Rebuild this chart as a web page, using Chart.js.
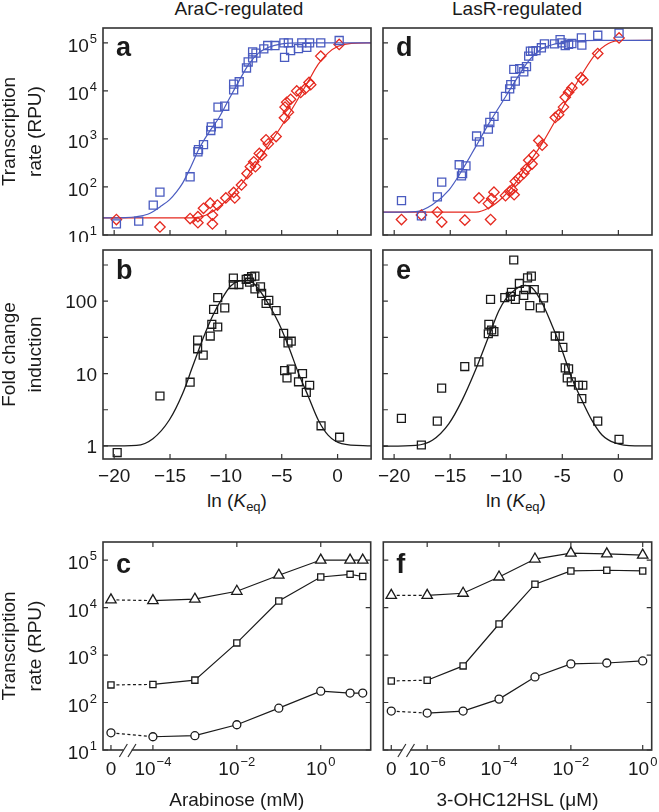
<!DOCTYPE html>
<html>
<head>
<meta charset="utf-8">
<script src="https://cdn.jsdelivr.net/npm/chart.js@4.4.1/dist/chart.umd.min.js"></script>
<style>
  body { margin: 0; background: #fff; width: 659px; height: 812px; position: relative; overflow: hidden;
         font-family: "Liberation Sans", Arial, sans-serif; color: #1a1a1a; }
  .box { position: absolute; }
  .lbl { position: absolute; font-size: 19px; line-height: 22px; text-align: center; white-space: nowrap; }
  .lbl sub { font-size: 13px; vertical-align: -4px; line-height: 0; }
</style>
</head>
<body>
<div class="lbl" style="left:89px;top:-2px;width:300px">AraC-regulated</div>
<div class="lbl" style="left:367px;top:-2px;width:300px">LasR-regulated</div>
<div class="lbl" style="left:87px;top:490px;width:300px">ln (<i>K</i><sub>eq</sub>)</div>
<div class="lbl" style="left:366px;top:490px;width:300px">ln (<i>K</i><sub>eq</sub>)</div>

<script>
// ---------- data ----------
// a: AraC, transcription rate vs ln(Keq)
const aBlueX = [-19.8,-17.8,-16.5,-15.9,-13.2,-12.5,-12.45,-12.0,-11.35,-11.3,-10.7,-10.7,-10.1,-9.3,-9.3,-8.8,-8.15,-8.0,-7.6,-7.6,-7.3,-6.6,-6.25,-5.6,-4.8,-4.74,-4.4,-4.2,-3.5,-3.2,-2.75,-2.5,-1.5,0.15];
const aBlueY = [17,19.5,42,78,163,540,600,760,1500,1780,2100,4600,4800,10500,13800,15500,30000,40000,49000,65000,61000,75000,88000,88000,100000,50000,100000,69000,76000,100000,81000,100000,100000,112000];
const aRedX = [-19.8,-15.9,-13.2,-12.5,-12.5,-12.0,-11.4,-11.2,-11.2,-10.75,-10.0,-9.3,-9.2,-8.6,-8.1,-7.8,-7.5,-7.35,-7.0,-6.8,-6.4,-6.2,-5.5,-4.75,-4.7,-4.55,-4.4,-4.2,-3.65,-3.3,-2.9,-2.55,-2.4,-1.5,0.15];
const aRedY = [21,14.7,22,24,18,36,46,26,17,42,59,77,59,110,190,265,335,265,500,460,960,790,1120,2750,4600,5800,3600,6700,10000,9300,11000,15000,13500,53000,93000];
const aBlueFitX = [-21,-19,-18,-17,-16.5,-15.8,-15.05,-14.4,-13.87,-13.13,-12.39,-11.5,-10.6,-9.72,-8.83,-7.94,-7.05,-6.16,-4.98,-3.2,3];
const aBlueFitY = [22.7,23,24,27,31,40,54,80,120,265,630,1390,2800,6700,16000,36000,62000,81000,95000,100000,100000];
const aRedFitX = [-21,-13.57,-12.09,-10.9,-9.72,-8.53,-7.35,-6.16,-4.98,-3.79,-2.61,-1.72,-0.83,0.06,1.24,3];
const aRedFitY = [22.7,22.7,24.5,34,59,120,290,740,1900,5400,16000,36000,62000,85000,98000,100000];

// d: LasR, transcription rate vs ln(Keq)
const dBlueX = [-19.35,-17.57,-16.15,-15.76,-14.2,-14.0,-13.9,-13.6,-12.65,-12.4,-11.6,-11.47,-11.1,-10.07,-9.7,-9.6,-9.2,-9.33,-8.8,-8.44,-8.2,-8.0,-7.85,-7.64,-7.35,-6.87,-6.6,-5.7,-5.2,-5.04,-4.74,-4.44,-4.15,-3.3,-3.26,-1.84,0.06];
const dBlueY = [52,25,62,126,290,170,190,275,1150,870,1600,2200,2950,7700,11000,13500,16000,28000,29000,25000,32000,53000,67000,67000,69000,79000,95000,95000,117000,100000,88000,93000,97000,127000,90000,144000,160000];
const dRedX = [-19.35,-17.57,-16.15,-15.76,-13.7,-12.44,-11.6,-11.4,-11.3,-11.1,-10.07,-9.7,-9.48,-9.3,-9.2,-8.9,-8.44,-8.24,-8.0,-7.7,-7.55,-7.1,-6.8,-5.63,-5.33,-4.9,-4.74,-4.44,-4.15,-3.35,-3.17,-1.84,0.06];
const dRedY = [21,26,30,18.6,20.4,59,45,21,57,78,66,81,88,69,130,152,192,233,360,300,460,930,740,2800,3200,4600,7400,9400,11500,19000,17000,60000,127000];
const dBlueFitX = [-21,-18.07,-16.6,-15.1,-13.93,-12.74,-11.56,-10.37,-9.19,-8.0,-6.81,-5.63,-4.15,-1.78,3];
const dBlueFitY = [29.8,30.7,42.6,87,226,683,2080,5800,16200,42000,76000,95000,108000,113000,113000];
const dRedFitX = [-21,-12.74,-11.56,-10.37,-9.19,-8.0,-6.81,-5.63,-4.44,-3.26,-2.07,-0.89,0.3,3];
const dRedFitY = [29.8,30,36.5,59,120,310,800,2400,7400,22000,57000,97000,112000,113000];

// b, e: fold change induction vs ln(Keq)
const bX = [-19.73,-15.9,-13.2,-12.53,-12.53,-12.03,-11.4,-11.26,-10.73,-11.1,-10.73,-10.1,-9.33,-9.33,-8.83,-8.18,-8.0,-7.88,-7.7,-7.4,-7.4,-6.9,-6.8,-6.4,-6.16,-5.5,-4.83,-4.44,-4.15,-4.74,-4.53,-4.15,-3.5,-3.14,-2.8,-2.5,-1.48,0.18];
const bY = [0.81,4.9,7.6,29,22,18,33,48,44,77,112,81,209,170,170,200,206,183,218,222,148,158,128,93,103,74,36,26.5,28,11,8.7,11.5,7.7,10,5.5,6.9,1.9,1.32];
const bFitX = [-21,-18,-16.53,-15.05,-13.87,-12.98,-12.09,-11.2,-10.31,-9.57,-8.83,-7.94,-7.05,-6.16,-5.27,-4.39,-3.5,-2.61,-1.72,-0.83,0.36,3];
const bFitY = [1.0,1.02,1.26,2.3,5.3,12.5,29.4,62,111,162,190,194,145,90,50,23.7,10.1,4.8,2.27,1.4,1.08,1.0];
const eX = [-19.35,-17.57,-16.15,-15.76,-13.7,-12.44,-11.6,-11.55,-11.3,-11.1,-11.4,-10.13,-9.63,-9.54,-9.19,-9.33,-8.83,-8.44,-8.3,-8.1,-7.76,-7.9,-7.5,-6.96,-6.67,-5.63,-5.24,-4.95,-4.74,-4.44,-4.56,-4.2,-3.56,-3.17,-3.26,-1.84,0.06];
const eY = [2.4,1.03,2.2,6.3,12.5,14.5,35.5,48,40,38,106,112,117,133,106,371,176,120,145,210,222,87,145,81,111,33,33,23,12,11.6,8.7,7.7,6.9,6.9,4.5,2.2,1.23];
const eFitX = [-21,-18.07,-16.59,-15.11,-13.93,-12.74,-11.56,-10.67,-10.07,-9.19,-8.3,-7.7,-6.81,-5.93,-5.04,-4.15,-3.26,-2.37,-1.48,-0.3,1.48,3];
const eFitY = [0.99,1.02,1.2,2.04,4.3,11.2,32.7,73,106,145,165,153,95,47,21.4,8.6,4.3,2.27,1.43,1.1,1.0,1.0];

// c: arabinose dose response (0 is drawn at the broken-axis position)
const araConc = [0, 1e-4, 1e-3, 1e-2, 1e-1, 1, 5, 10];
const araZeroAt = 1e-5;
const cTri = [14500,14000,15000,22000,48000,100000,100000,100000];
const cSq = [235,240,296,1800,13700,44000,50000,45000];
const cCirc = [23,19,20,34,76,173,158,158];

// f: 3-OHC12HSL dose response
const hslConc = [0, 1e-6, 1e-5, 1e-4, 1e-3, 1e-2, 1e-1, 1];
const hslZeroAt = 1e-7;
const fTri = [18000,18000,20000,44000,105000,140000,135000,127000];
const fSq = [285,295,590,4500,31000,59000,61000,59000];
const fCirc = [66,60,66,118,345,650,680,750];

// ticks
const rpuTicks = [1e1, 1e2, 1e3, 1e4, 1e5];
const rpuLabels = ['10^1', '10^2', '10^3', '10^4', '10^5'];
const foldTicks = [1, 3.162, 10, 31.62, 100, 316.2];
const foldLabels = ['1', '', '10', '', '100', ''];
const lnTicks = [-20, -15, -10, -5, 0];
const lnLabelsB = ['\u221220', '\u221215', '\u221210', '\u22125', '0'];
const lnLabelsE = ['\u221220', '\u221215', '\u221210', '-5', '0'];
const araTicks = [1e-5, 1e-4, 1e-2, 1];
const araLabels = ['0', '10^\u22124', '10^\u22122', '10^0'];
const hslTicks = [1e-7, 1e-6, 1e-4, 1e-2, 1];
const hslLabels = ['0', '10^\u22126', '10^\u22124', '10^\u22122', '10^0'];

// ---------- drawing ----------
const FONT = '"Liberation Sans", Arial, sans-serif';
const INK = '#1a1a1a', FRAME = '#333', BLUE = '#4a5bc0', RED = '#e5291f';

const pts = (xs, ys) => xs.map((x, i) => ({x: x, y: ys[i]}));

function drawLabel(ctx, text, x, y, align) {
  const [base, exp] = text.split('^');
  ctx.font = '19px ' + FONT;
  const w1 = ctx.measureText(base).width;
  ctx.font = '13px ' + FONT;
  const w2 = exp ? ctx.measureText(exp).width + 1 : 0;
  const x0 = align === 'right' ? x - w1 - w2 : x - (w1 + w2) / 2;
  ctx.textAlign = 'left';
  ctx.textBaseline = 'alphabetic';
  ctx.font = '19px ' + FONT;
  ctx.fillText(base, x0, y);
  if (exp) {
    ctx.font = '13px ' + FONT;
    ctx.fillText(exp, x0 + w1 + 1, y - 9);
  }
}

function deco(o) {
  return {
    id: 'deco',
    afterDraw(chart) {
      const {ctx, chartArea: a, scales: {x, y}} = chart;
      ctx.save();
      ctx.strokeStyle = FRAME;
      ctx.lineWidth = 1.2;
      ctx.beginPath();
      x.ticks.forEach((t, i) => {
        const px = x.getPixelForValue(t.value);
        ctx.moveTo(px, a.bottom); ctx.lineTo(px, a.bottom - 5);
        // no top tick over the "0" position of a broken axis
        if (o.mirror && !(o.brk && i === 0)) { ctx.moveTo(px, a.top); ctx.lineTo(px, a.top + 5); }
      });
      y.ticks.forEach(t => {
        const py = y.getPixelForValue(t.value);
        ctx.moveTo(a.left, py); ctx.lineTo(a.left + 5, py);
        if (o.mirror) { ctx.moveTo(a.right, py); ctx.lineTo(a.right - 5, py); }
      });
      ctx.stroke();
      ctx.lineWidth = 1.6;
      ctx.strokeRect(a.left, a.top, a.width, a.height);

      if (o.brk) {
        const px = x.getPixelForValue(o.brk);
        ctx.strokeStyle = '#fff';
        ctx.lineWidth = 4;
        ctx.beginPath(); ctx.moveTo(px - 4, a.bottom); ctx.lineTo(px + 4, a.bottom); ctx.stroke();
        ctx.strokeStyle = FRAME;
        ctx.lineWidth = 1.2;
        ctx.beginPath();
        [-4.3, 4.3].forEach(d => { ctx.moveTo(px + d - 4, a.bottom + 7); ctx.lineTo(px + d + 4, a.bottom - 6); });
        ctx.stroke();
      }

      ctx.fillStyle = INK;
      if (o.xLabels) {
        x.ticks.forEach((t, i) => drawLabel(ctx, o.xLabels[i], x.getPixelForValue(t.value), a.bottom + o.xDy, 'center'));
      }
      if (o.yLabels) {
        y.ticks.forEach((t, i) => {
          const l = o.yLabels[i];
          if (l) drawLabel(ctx, l, a.left - 6, y.getPixelForValue(t.value) + (l.includes('^') ? 9 : 7), 'right');
        });
      }
      ctx.font = 'bold 27px ' + FONT;
      ctx.textAlign = 'left';
      ctx.textBaseline = 'alphabetic';
      ctx.fillText(o.letter, a.left + 13, a.top + o.letterDy);
      ctx.restore();
    }
  };
}

function panel(pos, o) {
  const div = document.createElement('div');
  div.className = 'box';
  div.style.left = pos.x + 'px';
  div.style.top = pos.y + 'px';
  const cv = document.createElement('canvas');
  cv.width = pos.w;
  cv.height = pos.h;
  div.appendChild(cv);
  document.body.appendChild(div);

  return new Chart(cv, {
    type: 'scatter',
    data: {datasets: o.datasets},
    options: {
      responsive: false,
      animation: false,
      layout: {padding: {top: pos.padTop, right: pos.padRight, bottom: 0, left: 0}},
      plugins: {legend: {display: false}, tooltip: {enabled: false}},
      scales: {
        x: {
          type: o.xType, min: o.xMin, max: o.xMax,
          afterBuildTicks: s => { s.ticks = o.xTicks.map(v => ({value: v})); },
          afterFit: s => { s.height = pos.xH; },
          grid: {display: false}, border: {display: false}, ticks: {display: false},
          title: o.xTitle
            ? {display: true, text: o.xTitle, color: INK, font: {size: 19, family: FONT}, padding: {top: 0, bottom: 0}}
            : {display: false}
        },
        y: {
          type: 'logarithmic', min: o.yMin, max: o.yMax,
          afterBuildTicks: s => { s.ticks = o.yTicks.map(v => ({value: v})); },
          afterFit: s => { s.width = pos.yW; },
          grid: {display: false}, border: {display: false}, ticks: {display: false},
          title: o.yTitle
            ? {display: true, text: o.yTitle, color: INK, font: {size: 19, family: FONT, lineHeight: 1.35}, padding: {top: -3, bottom: 0}}
            : {display: false}
        }
      }
    },
    plugins: [deco(o)]
  });
}

function marks(data, color, style, r) {
  return {data: data, showLine: false, pointStyle: style, pointRadius: r, pointBorderWidth: 1.3,
          pointBorderColor: color, pointBackgroundColor: 'rgba(0,0,0,0)', clip: false};
}
function curve(data, color, w) {
  return {data: data, showLine: true, pointRadius: 0, borderColor: color, borderWidth: w,
          cubicInterpolationMode: 'monotone', fill: false};
}
function dose(conc, zeroAt, ys, style, r) {
  return {data: pts(conc.map(c => c === 0 ? zeroAt : c), ys), showLine: true, borderColor: INK, borderWidth: 1.2,
          pointStyle: style, pointRadius: r, pointBorderWidth: 1.3, pointBorderColor: INK,
          pointBackgroundColor: '#fff', clip: false,
          segment: {borderDash: c => c.p0DataIndex === 0 ? [3, 2.5] : undefined}};
}

// column and row geometry (chart area edges: left col 103-372, right col 381-652)
const colL = {x: 0, w: 378, padRight: 6, yW: 103};
const colR = {x: 376, w: 283, padRight: 7, yW: 5};
const row1 = {y: 20, h: 222, padTop: 8, xH: 4};
const row2 = {y: 242, h: 268, padTop: 8, xH: 51};
const row3 = {y: 530, h: 282, padTop: 12, xH: 62};
const at = (c, r) => Object.assign({}, c, r);

const rpuTitle = ['Transcription', 'rate (RPU)'];

// a
panel(at(colL, row1), {
  letter: 'a', letterDy: 28, xType: 'linear', xMin: -21, xMax: 3, xTicks: lnTicks,
  yMin: 10, yMax: 2.04e5, yTicks: rpuTicks, yLabels: rpuLabels, yTitle: rpuTitle,
  datasets: [
    marks(pts(aBlueX, aBlueY), BLUE, 'rect', 5.7),
    marks(pts(aRedX, aRedY), RED, 'rectRot', 5.2),
    curve(pts(aBlueFitX, aBlueFitY), BLUE, 1.2),
    curve(pts(aRedFitX, aRedFitY), RED, 1.2)
  ]
});
// d
panel(at(colR, row1), {
  letter: 'd', letterDy: 28, xType: 'linear', xMin: -21, xMax: 3, xTicks: lnTicks,
  yMin: 10, yMax: 2.04e5, yTicks: rpuTicks,
  datasets: [
    marks(pts(dBlueX, dBlueY), BLUE, 'rect', 5.7),
    marks(pts(dRedX, dRedY), RED, 'rectRot', 5.2),
    curve(pts(dBlueFitX, dBlueFitY), BLUE, 1.2),
    curve(pts(dRedFitX, dRedFitY), RED, 1.2)
  ]
});
// b
panel(at(colL, row2), {
  letter: 'b', letterDy: 29, xType: 'linear', xMin: -21, xMax: 3, xTicks: lnTicks, xLabels: lnLabelsB, xDy: 23,
  yMin: 0.66, yMax: 510, yTicks: foldTicks, yLabels: foldLabels, yTitle: ['Fold change', 'induction'],
  datasets: [
    marks(pts(bX, bY), INK, 'rect', 5.6),
    curve(pts(bFitX, bFitY), INK, 1.3)
  ]
});
// e
panel(at(colR, row2), {
  letter: 'e', letterDy: 29, xType: 'linear', xMin: -21, xMax: 3, xTicks: lnTicks, xLabels: lnLabelsE, xDy: 23,
  yMin: 0.66, yMax: 510, yTicks: foldTicks,
  datasets: [
    marks(pts(eX, eY), INK, 'rect', 5.6),
    curve(pts(eFitX, eFitY), INK, 1.3)
  ]
});
// c
panel(at(colL, row3), {
  letter: 'c', letterDy: 31, mirror: true, brk: 2.5e-5,
  xType: 'logarithmic', xMin: 6.46e-6, xMax: 15.5, xTicks: araTicks, xLabels: araLabels, xDy: 25,
  xTitle: 'Arabinose (mM)',
  yMin: 10, yMax: 2.4e5, yTicks: rpuTicks, yLabels: rpuLabels, yTitle: rpuTitle,
  datasets: [
    dose(araConc, araZeroAt, cTri, 'triangle', 6),
    dose(araConc, araZeroAt, cSq, 'rect', 4.4),
    dose(araConc, araZeroAt, cCirc, 'circle', 4)
  ]
});
// f
panel(at(colR, row3), {
  letter: 'f', letterDy: 31, mirror: true, brk: 2.6e-7,
  xType: 'logarithmic', xMin: 6.46e-8, xMax: 1.78, xTicks: hslTicks, xLabels: hslLabels, xDy: 25,
  xTitle: '3-OHC12HSL (\u03bcM)',
  yMin: 10, yMax: 2.4e5, yTicks: rpuTicks,
  datasets: [
    dose(hslConc, hslZeroAt, fTri, 'triangle', 6),
    dose(hslConc, hslZeroAt, fSq, 'rect', 4.4),
    dose(hslConc, hslZeroAt, fCirc, 'circle', 4)
  ]
});
</script>
</body>
</html>
